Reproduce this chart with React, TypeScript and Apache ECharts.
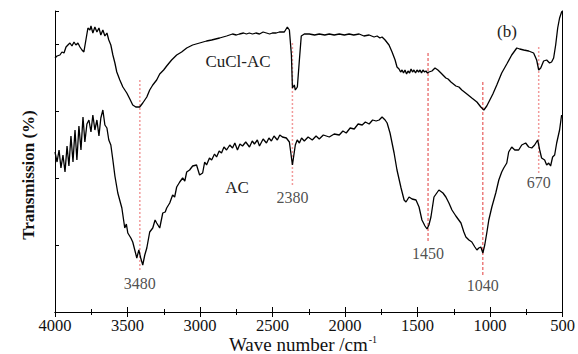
import React, { useEffect, useRef } from "react";
import * as echarts from "echarts";

// CuCl-AC spectrum: [wavenumber, transmission (arb.)]
const cuclAC: number[][] = [
  [4000, 254], [3986, 256], [3966, 257], [3952, 260], [3938, 259], [3924, 265], [3911, 267], [3897, 269],
  [3883, 266], [3869, 270], [3856, 267], [3842, 269], [3828, 265], [3814, 262], [3801, 260], [3787, 272],
  [3773, 284], [3759, 282], [3752, 286], [3739, 279], [3725, 285], [3711, 280], [3697, 284], [3684, 277],
  [3670, 282], [3656, 276], [3642, 279], [3629, 272], [3615, 267], [3601, 257], [3587, 249], [3574, 240],
  [3553, 232], [3532, 225], [3505, 219], [3484, 213], [3464, 207], [3443, 205], [3416, 205], [3395, 209],
  [3367, 215], [3347, 222], [3326, 227], [3299, 232], [3278, 238], [3251, 242], [3230, 246], [3196, 252],
  [3161, 257], [3127, 260], [3092, 264], [3051, 267], [3003, 269], [2955, 271], [2920, 272], [2865, 274],
  [2817, 276], [2776, 278], [2750, 277], [2728, 278], [2700, 279], [2680, 278], [2660, 279], [2639, 278],
  [2615, 279], [2590, 278], [2565, 280], [2542, 279], [2520, 278], [2501, 279], [2475, 279], [2453, 280],
  [2419, 280], [2398, 285], [2384, 282], [2370, 257], [2363, 224], [2350, 227], [2343, 222], [2329, 225],
  [2315, 252], [2302, 276], [2281, 278], [2247, 278], [2210, 277], [2178, 278], [2140, 277], [2109, 278],
  [2075, 277], [2040, 278], [2005, 277], [1972, 278], [1940, 277], [1903, 278], [1870, 276], [1834, 277],
  [1800, 275], [1779, 276], [1760, 274], [1745, 275], [1724, 272], [1697, 267], [1676, 260], [1655, 252],
  [1642, 245], [1628, 243], [1617, 240], [1607, 242], [1597, 239], [1587, 242], [1576, 238], [1566, 241],
  [1555, 239], [1545, 243], [1535, 240], [1525, 242], [1514, 239], [1504, 242], [1493, 240], [1483, 242],
  [1473, 239], [1463, 242], [1452, 240], [1442, 241], [1432, 239], [1422, 240], [1401, 241], [1380, 244],
  [1360, 242], [1339, 239], [1305, 234], [1290, 233], [1270, 230], [1236, 226], [1215, 225], [1195, 222],
  [1160, 218], [1126, 214], [1091, 210], [1064, 205], [1043, 202], [1023, 206], [1002, 212], [981, 218],
  [954, 227], [920, 239], [885, 248], [851, 257], [816, 264], [796, 263], [768, 262], [734, 261],
  [700, 259], [679, 252], [665, 242], [651, 244], [631, 251], [610, 252], [590, 249], [576, 250],
  [562, 254], [548, 267], [534, 284], [521, 294], [507, 300], [500, 301],
];

// AC spectrum: [wavenumber, transmission (arb.)]
const ac: number[][] = [
  [4000, 160], [3986, 150], [3972, 162], [3959, 144], [3945, 157], [3931, 140], [3917, 166], [3904, 146],
  [3890, 176], [3876, 150], [3862, 182], [3849, 152], [3835, 186], [3821, 162], [3807, 195], [3794, 170],
  [3780, 188], [3766, 192], [3752, 180], [3739, 197], [3725, 182], [3711, 192], [3697, 176], [3684, 194],
  [3670, 202], [3656, 187], [3642, 184], [3629, 172], [3615, 167], [3601, 152], [3587, 136], [3567, 119],
  [3539, 104], [3519, 84], [3508, 88], [3498, 79], [3477, 74], [3464, 70], [3450, 62], [3436, 54],
  [3422, 62], [3409, 54], [3395, 47], [3381, 57], [3367, 64], [3347, 80], [3326, 84], [3310, 92],
  [3299, 89], [3278, 84], [3257, 99], [3240, 100], [3230, 104], [3209, 109], [3189, 117], [3175, 115],
  [3161, 125], [3140, 130], [3120, 134], [3105, 131], [3092, 140], [3072, 142], [3051, 146], [3024, 147],
  [3003, 137], [2982, 139], [2968, 150], [2955, 147], [2935, 154], [2920, 152], [2900, 158], [2886, 155],
  [2868, 161], [2852, 159], [2835, 165], [2817, 162], [2795, 167], [2776, 164], [2760, 169], [2742, 162],
  [2725, 168], [2707, 166], [2685, 170], [2659, 165], [2640, 171], [2625, 168], [2605, 172], [2590, 166],
  [2565, 173], [2542, 169], [2525, 174], [2508, 171], [2490, 176], [2467, 172], [2450, 177], [2432, 175],
  [2405, 174], [2384, 170], [2363, 147], [2343, 167], [2330, 172], [2315, 169], [2300, 174], [2281, 171],
  [2255, 175], [2226, 172], [2200, 176], [2178, 173], [2150, 177], [2109, 175], [2075, 178], [2040, 177],
  [2015, 181], [1992, 179], [1965, 184], [1937, 183], [1910, 188], [1882, 187], [1860, 190], [1834, 188],
  [1810, 192], [1786, 191], [1765, 192], [1745, 195], [1724, 192], [1710, 189], [1690, 179], [1662, 159],
  [1642, 142], [1614, 124], [1593, 112], [1580, 110], [1559, 115], [1538, 113], [1511, 112], [1490, 105],
  [1470, 92], [1449, 86], [1435, 83], [1422, 87], [1408, 95], [1387, 115], [1353, 122], [1325, 119],
  [1305, 115], [1284, 109], [1263, 102], [1236, 96], [1201, 89], [1181, 80], [1167, 75], [1146, 72],
  [1126, 70], [1105, 65], [1091, 62], [1078, 64], [1064, 65], [1050, 59], [1037, 67], [1023, 79],
  [1009, 92], [988, 105], [961, 119], [940, 132], [920, 140], [906, 144], [885, 149], [872, 160],
  [851, 165], [830, 162], [803, 162], [782, 167], [755, 169], [734, 165], [713, 164], [693, 167],
  [672, 172], [658, 162], [645, 154], [624, 152], [610, 147], [596, 149], [583, 146], [569, 155],
  [555, 157], [541, 169], [521, 182], [507, 197],
];

// Peak markers
const peakPositions = [3415, 2363, 1428, 1050, 665];
const peakLabels = ["3480", "2380", "1450", "1040", "670"];
const peakLineTop = [232, 269, 259, 230, 265];
const peakLineBottom = [42, 127, 69, 37, 137];
const peakLabelY = [29, 115, 59, 27, 130];
const peakDotted = [true, true, false, false, true];

const xTicks = { min: 500, max: 4000, interval: 500 };

const serif = "'Liberation Serif', 'Times New Roman', serif";

export default function App() {
  const ref = useRef<HTMLDivElement>(null);
  useEffect(() => {
    if (!ref.current) return;
    const chart = echarts.init(ref.current, undefined, { renderer: "svg" });

    const peakSeries = peakPositions.map((p, i) => ({
      type: "line",
      data: [
        [p, peakLineTop[i]],
        [p, peakLineBottom[i]],
      ],
      symbol: "none",
      silent: true,
      z: 1,
      lineStyle: peakDotted[i]
        ? { color: "#f29a9a", width: 1.5, type: [2, 2] }
        : { color: "#e23a3a", width: 1, type: [3, 2] },
    }));

    const axisCommon = {
      type: "value",
      min: xTicks.min,
      max: xTicks.max,
      interval: xTicks.interval,
      inverse: true,
      axisLine: { show: true, lineStyle: { color: "#000", width: 1 } },
      axisTick: { show: true, inside: true, length: 5, lineStyle: { color: "#000" } },
      minorTick: { show: true, splitNumber: 2, length: 3, lineStyle: { color: "#000" } },
      splitLine: { show: false },
      minorSplitLine: { show: false },
    };

    chart.setOption({
      animation: false,
      backgroundColor: "#fff",
      grid: { left: 55, right: 14, top: 11, bottom: 42, containLabel: false },
      xAxis: [
        {
          ...axisCommon,
          position: "bottom",
          axisLabel: {
            show: true,
            color: "#111",
            fontFamily: serif,
            fontSize: 16.5,
            margin: 5,
            formatter: (v: number) => String(v),
          },
        },
        {
          ...axisCommon,
          position: "top",
          axisLabel: { show: false },
        },
      ],
      yAxis: [
        {
          type: "value",
          min: 0,
          max: 301,
          interval: 67,
          position: "left",
          axisLine: { show: true, lineStyle: { color: "#000", width: 1 } },
          axisTick: { show: true, inside: true, length: 4, lineStyle: { color: "#000" } },
          axisLabel: { show: false },
          splitLine: { show: false },
        },
        {
          type: "value",
          min: 0,
          max: 301,
          position: "right",
          axisLine: { show: true, lineStyle: { color: "#000", width: 1 } },
          axisTick: { show: false },
          axisLabel: { show: false },
          splitLine: { show: false },
        },
      ],
      series: [
        ...peakSeries,
        {
          type: "line",
          name: "CuCl-AC",
          data: cuclAC,
          symbol: "none",
          z: 3,
          lineStyle: { color: "#000", width: 1.3 },
        },
        {
          type: "line",
          name: "AC",
          data: ac,
          symbol: "none",
          z: 3,
          lineStyle: { color: "#000", width: 1.3 },
        },
        {
          type: "scatter",
          data: peakPositions.map((p, i) => [p, peakLabelY[i], peakLabels[i]]),
          symbolSize: 0,
          silent: true,
          label: {
            show: true,
            position: "inside",
            formatter: (pr: any) => pr.value[2],
            color: "#222",
            fontFamily: serif,
            fontSize: 16,
          },
        },
      ],
      graphic: [
        {
          type: "text",
          x: 238,
          y: 61,
          style: {
            text: "CuCl-AC",
            fill: "#222",
            font: `17px ${serif}`,
            textAlign: "center",
            textVerticalAlign: "middle",
          },
        },
        {
          type: "text",
          x: 237,
          y: 187,
          style: {
            text: "AC",
            fill: "#222",
            font: `17px ${serif}`,
            textAlign: "center",
            textVerticalAlign: "middle",
          },
        },
        {
          type: "text",
          x: 507,
          y: 31,
          style: {
            text: "(b)",
            fill: "#222",
            font: `17px ${serif}`,
            textAlign: "center",
            textVerticalAlign: "middle",
          },
        },
        {
          type: "text",
          x: 28,
          y: 175,
          rotation: Math.PI / 2,
          style: {
            text: "Transmission (%)",
            fill: "#111",
            font: `bold 17px ${serif}`,
            textAlign: "center",
            textVerticalAlign: "middle",
          },
        },
        {
          type: "text",
          x: 303,
          y: 344,
          style: {
            text: "{a|Wave number /cm}{b|-1}",
            textAlign: "center",
            textVerticalAlign: "middle",
            rich: {
              a: { fontFamily: serif, fontSize: 19, fill: "#111", lineHeight: 19 },
              b: { fontFamily: serif, fontSize: 10, fill: "#111", lineHeight: 19, padding: [0, 0, 9, 1] },
            },
          },
        },
      ],
    });

    return () => chart.dispose();
  }, []);

  return (
    <div
      ref={ref}
      style={{ position: "fixed", left: 0, top: 0, width: 578, height: 354 }}
    />
  );
}
